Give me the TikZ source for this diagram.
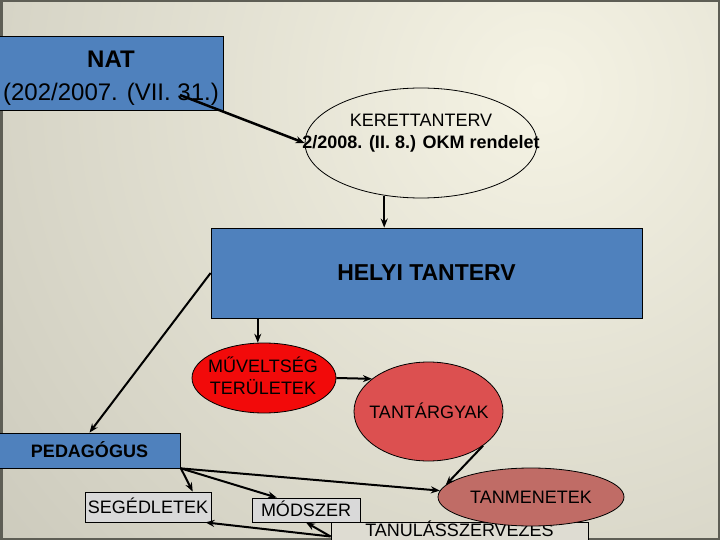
\documentclass[tikz,border=0pt]{standalone}
\usepackage{fontspec}
\setmainfont{Liberation Sans}
\usepackage{xcolor}
\usepackage{tikz}
\usetikzlibrary{arrows.meta,shapes.geometric}

\definecolor{slideblue}{HTML}{4F81BD}
\definecolor{bglight}{HTML}{F5F3E4}
\definecolor{bgdark}{HTML}{8E8C80}
\definecolor{framegray}{HTML}{5E5E55}
\definecolor{redA}{HTML}{F20A0A}
\definecolor{redB}{HTML}{DC5050}
\definecolor{redC}{HTML}{C06C66}
\definecolor{boxgray}{HTML}{D9D9D9}
\definecolor{boxcream}{HTML}{DEDCD2}

\begin{document}
\begin{tikzpicture}[x=1pt,y=-1pt,>={Stealth[length=9pt,width=7pt]},line width=0.8pt,
  box/.style={draw,rectangle,inner sep=0pt,fill=slideblue},
  lbl/.style={draw,rectangle,inner sep=0pt,fill=boxgray,text height=13pt,text depth=0pt},
  oval/.style={draw,ellipse,inner sep=0pt},
  txt/.style={inner sep=0pt,align=center,font=\fontsize{18}{22}\selectfont},
  conn/.style={->,line width=2pt}]
  \useasboundingbox (0,0) rectangle (720,540);
  \clip (0,0) rectangle (720,540);
  % Background of the slide
  \shade[inner color=bglight,outer color=bgdark] (540,90) circle (1800);
  \draw[framegray,line width=5pt] (0,0) rectangle (720,540);
  % Upper level: NAT and the frame curriculum
  \node[box,minimum width=224,minimum height=74] (nat) at (111,73.5) {};
  \node[txt,font=\fontsize{24}{33}\selectfont] (nattxt) at (111,78.3) {\textbf{NAT}\\(202/2007. (VII. 31.)};
  \coordinate (natout) at (180,95);
  \node[oval,minimum width=232,minimum height=110] (keret) at (421,143) {};
  \node[txt] (kerettxt) at (421,133.4) {KERETTANTERV\\\textbf{2/2008. (II. 8.) OKM rendelet}};
  \node[box,minimum width=431,minimum height=90,font=\fontsize{23}{27}\selectfont\bfseries] (helyi) at (426.5,273) {HELYI TANTERV};
  % Middle level: red ovals
  \node[oval,fill=redA,minimum width=144,minimum height=70] (muv) at (264,378) {};
  \node[txt] (muvtxt) at (263,375.8) {MŰVELTSÉG\\TERÜLETEK};
  \node[oval,fill=redB,minimum width=149,minimum height=99] (tant) at (428.5,411.5) {};
  \node[txt,text height=13pt,text depth=0pt] (tanttxt) at (429,411.5) {TANTÁRGYAK};
  % Lower level: teacher and its tools
  \node[box,minimum width=182,minimum height=35,text height=13pt,text depth=0pt,
        font=\fontsize{18}{22}\selectfont\bfseries] (ped) at (89.5,450.5) {PEDAGÓGUS};
  \node[lbl,minimum width=126,minimum height=30,font=\fontsize{18}{22}\selectfont] (seg) at (148,507) {SEGÉDLETEK};
  \node[lbl,minimum width=108,minimum height=24,font=\fontsize{18}{22}\selectfont] (mod) at (306,510) {MÓDSZER};
  \node[lbl,fill=boxcream,text depth=4pt,minimum width=257,minimum height=20,font=\fontsize{18}{22}\selectfont] (tan) at (459.5,532) {TANULÁSSZERVEZÉS};
  \node[oval,fill=redC,minimum width=186,minimum height=58,text height=13pt,text depth=0pt,
        font=\fontsize{18}{22}\selectfont] (tanm) at (531,497) {TANMENETEK};
  % Connectors
  \draw[conn,line width=2.5pt] (natout) -- (keret.west);
  \draw[conn] (keret.235) -- (keret.235 |- helyi.north);
  \draw[conn] (muv.100 |- helyi.south) -- (muv.100);
  \draw[conn] (helyi.west) -- (ped.north);
  \draw[conn] (muv.east) -- (tant.150);
  \draw[conn] (tant.-32) -- (tanm.172);
  \foreach \dst in {seg.19,mod.157,tanm.176}
    \draw[conn] (ped.south east) -- (\dst);
  \foreach \dst in {seg.-15,mod.south}
    \draw[conn] (tan.182) -- (\dst);
\end{tikzpicture}
\end{document}
